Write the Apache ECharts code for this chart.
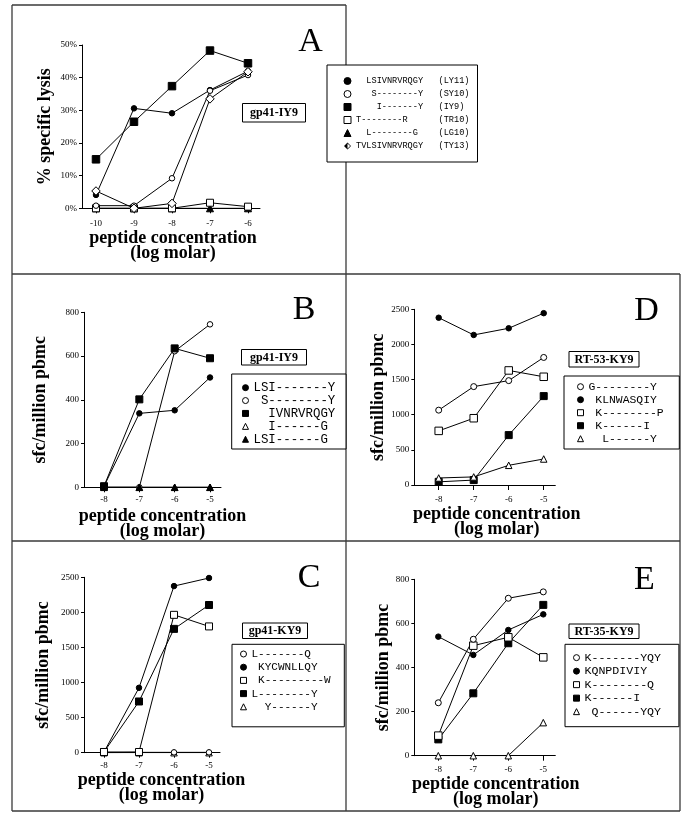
<!DOCTYPE html>
<html><head><meta charset="utf-8">
<script src="https://cdn.jsdelivr.net/npm/echarts@6/dist/echarts.min.js"></script>
<style>html,body{margin:0;padding:0;background:#fff}#c{width:692px;height:819px}</style>
</head><body><div id="c"></div>
<script>
// ---------- DATA ----------
const xA = [-10, -9, -8, -7, -6];          // log molar, panel A
const xS = [-8, -7, -6, -5];               // log molar, panels B-E

// Panel A: % specific lysis, gp41-IY9
const A_LY11 = [4.1, 30.6, 29.1, 36.2, 42.0];
const A_SY10 = [0.8, 0.8, 9.2, 36.0, 40.8];
const A_IY9  = [15.0, 26.5, 37.4, 48.3, 44.4];
const A_TR10 = [0, 0, 0, 1.7, 0.5];
const A_LG10 = [0, 0, 0, 0, 0];
const A_TY13 = [5.3, 0, 1.5, 33.5, 41.8];
const A_names = ["  LSIVNRVRQGY   (LY11)", "   S--------Y   (SY10)", "    I-------Y   (IY9)",
                 "T--------R      (TR10)", "  L--------G    (LG10)", "TVLSIVNRVRQGY   (TY13)"];

// Panel B: sfc/million pbmc, gp41-IY9
const B_LSI_Y = [5, 338, 352, 502];
const B_S_Y   = [0, 0, 622, 745];
const B_IVN   = [5, 402, 635, 590];
const B_I_G   = [0, 0, 0, 0];
const B_LSI_G = [0, 0, 0, 0];
const B_names = ["LSI-------Y", " S--------Y", "  IVNRVRQGY", "  I------G", "LSI------G"];

// Panel C: sfc/million pbmc, gp41-KY9
const C_L_Q = [0, 5, 5, 5];
const C_KYC = [10, 925, 2375, 2490];
const C_K_W = [10, 10, 1965, 1800];
const C_L_Y = [10, 730, 1765, 2105];
const C_Y_Y = [0, 0, 0, 0];
const C_names = ["L-------Q", " KYCWNLLQY", " K---------W", "L--------Y", "  Y------Y"];

// Panel D: sfc/million pbmc, RT-53-KY9
const D_G_Y = [1065, 1400, 1485, 1815];
const D_KLN = [2380, 2135, 2230, 2445];
const D_K_P = [770, 950, 1630, 1540];
const D_K_I = [45, 70, 710, 1265];
const D_L_Y = [100, 115, 280, 370];
const D_names = ["G--------Y", " KLNWASQIY", " K--------P", " K------I", "  L------Y"];

// Panel E: sfc/million pbmc, RT-35-KY9
const E_K_YQY = [240, 528, 714, 743];
const E_KQN   = [540, 457, 570, 641];
const E_K_Q   = [91, 499, 537, 446];
const E_K_I   = [74, 283, 510, 684];
const E_Q_YQY = [0, 0, 0, 150];
const E_names = ["K-------YQY", "KQNPDIVIY", "K--------Q", "K------I", " Q------YQY"];

const panelLetters = ["A", "B", "C", "D", "E"];
const epitopes = ["gp41-IY9", "gp41-IY9", "gp41-KY9", "RT-53-KY9", "RT-35-KY9"];
const yTitles = ["% specific lysis", "sfc/million pbmc", "sfc/million pbmc", "sfc/million pbmc", "sfc/million pbmc"];
const xTitle = "peptide concentration\n(log molar)";

// ---------- LAYOUT / STYLE ----------
const SERIF = "'Liberation Serif', 'Times New Roman', serif";
const MONO = "'Liberation Mono', 'Courier New', monospace";
const HALF_DIAMOND = 'path://M10,0 L0,10 L10,20 Z';
const HALF_DIAMOND_ICON = 'path://M10,0 L0,10 L10,20 Z M10,0 L20,10 L10,20 L10,17.5 L17.5,10 L10,2.5 Z';
const fmtPct = v => v + '%';
const fmtNum = v => String(v);

// [id, values, label, symbol, filled, size]
const panels = [
  { xs: xA, grid: {left: 82, top: 45, width: 178, height: 163.3}, xMin: -10.368, xMax: -5.684,
    yMax: 50, yInt: 10, yFmt: fmtPct, yGap: 28, xGap: 22, xPad: 4, lblMargin: 11,
    legend: {left: 327, top: 65, padding: [9.5, 7.5, 9.5, 16.5], font: 8.6, lh: 13, width: 114, icon: 7},
    series: [
      ['A5', A_LG10, A_names[4], 'triangle', true, 7],
      ['A4', A_TR10, A_names[3], 'rect', false, 7],
      ['A1', A_LY11, A_names[0], 'circle', true, 5.5],
      ['A2', A_SY10, A_names[1], 'circle', false, 5.5],
      ['A3', A_IY9,  A_names[2], 'rect', true, 7.5],
      ['A6', A_TY13, A_names[5], 'diamond', false, 8.5]
    ], order: ['A1', 'A2', 'A3', 'A4', 'A5', 'A6'] },
  { xs: xS, grid: {left: 84, top: 312.3, width: 137, height: 175}, xMin: -8.566, xMax: -4.689,
    yMax: 800, yInt: 200, yFmt: fmtNum, yGap: 35, xGap: 22, xPad: 20, lblMargin: 8,
    legend: {left: 231.7, top: 374, padding: [7.2, 9.5, 3.3, 10.3], font: 12.4, lh: 12.9, width: 83, icon: 6},
    series: [
      ['B2', B_S_Y,   B_names[1], 'circle', false, 5.5],
      ['B1', B_LSI_Y, B_names[0], 'circle', true, 5.5],
      ['B3', B_IVN,   B_names[2], 'rect', true, 7],
      ['B4', B_I_G,   B_names[3], 'triangle', false, 6.5],
      ['B5', B_LSI_G, B_names[4], 'triangle', true, 6.5]
    ], order: ['B1', 'B2', 'B3', 'B4', 'B5'] },
  { xs: xS, grid: {left: 84, top: 577.3, width: 136, height: 175.4}, xMin: -8.571, xMax: -4.686,
    yMax: 2500, yInt: 500, yFmt: fmtNum, yGap: 32, xGap: 20, xPad: 19, lblMargin: 8,
    legend: {left: 232, top: 644.3, padding: [3.1, 12.8, 13.4, 8], font: 11, lh: 13.2, width: 80, icon: 6},
    series: [
      ['C5', C_Y_Y, C_names[4], 'triangle', false, 6.5],
      ['C1', C_L_Q, C_names[0], 'circle', false, 5.5],
      ['C2', C_KYC, C_names[1], 'circle', true, 5.5],
      ['C4', C_L_Y, C_names[3], 'rect', true, 7],
      ['C3', C_K_W, C_names[2], 'rect', false, 7]
    ], order: ['C1', 'C2', 'C3', 'C4', 'C5'] },
  { xs: xS, grid: {left: 414.3, top: 309.3, width: 141, height: 175.7}, xMin: -8.697, xMax: -4.669,
    yMax: 2500, yInt: 500, yFmt: fmtNum, yGap: 20, xGap: 22, xPad: 24, lblMargin: 10.5,
    legend: {left: 564, top: 376, padding: [4.2, 14.8, 3.8, 13], font: 11.4, lh: 13, width: 76, icon: 6},
    series: [
      ['D4', D_K_I, D_names[3], 'rect', true, 7],
      ['D5', D_L_Y, D_names[4], 'triangle', false, 6.5],
      ['D3', D_K_P, D_names[2], 'rect', false, 7.5],
      ['D1', D_G_Y, D_names[0], 'circle', false, 6],
      ['D2', D_KLN, D_names[1], 'circle', true, 5.5]
    ], order: ['D1', 'D2', 'D3', 'D4', 'D5'] },
  { xs: xS, grid: {left: 414.3, top: 579.3, width: 141, height: 176.4}, xMin: -8.686, xMax: -4.657,
    yMax: 800, yInt: 200, yFmt: fmtNum, yGap: 20, xGap: 21, xPad: 22, lblMargin: 9,
    legend: {left: 565, top: 644.3, padding: [6.6, 17.4, 8.3, 8], font: 11.6, lh: 13.5, width: 77, icon: 6},
    series: [
      ['E5', E_Q_YQY, E_names[4], 'triangle', false, 6.5],
      ['E4', E_K_I,   E_names[3], 'rect', true, 7],
      ['E3', E_K_Q,   E_names[2], 'rect', false, 7.5],
      ['E2', E_KQN,   E_names[1], 'circle', true, 5.5],
      ['E1', E_K_YQY, E_names[0], 'circle', false, 6]
    ], order: ['E1', 'E2', 'E3', 'E4', 'E5'] }
];

const letterPos = [[310.5, 42.5], [304, 310], [309, 578.5], [646.5, 311], [644.5, 580]];
const letterSize = [34, 34, 34, 34, 34];
const boxRects = [[242.5, 103.5, 63, 18.5], [241.5, 349.5, 65, 15.5], [242.5, 623, 65, 15.5],
                  [569, 351.5, 70, 15.5], [569, 624, 70, 14.5]];
const frameLines = [[12, 5, 346, 5], [12, 5, 12, 811], [12, 811, 680, 811], [680, 274, 680, 811],
                    [346, 5, 346, 811], [12, 274, 680, 274], [12, 541, 680, 541]];

// ---------- BUILD ----------
const grids = [], xAxes = [], yAxes = [], series = [], legends = [], graphics = [];
const labelOf = {};

frameLines.forEach(l => graphics.push({type: 'line', shape: {x1: l[0], y1: l[1], x2: l[2], y2: l[3]},
  style: {stroke: '#3a3a3a', lineWidth: 1.3}, z: 0, silent: true}));

panels.forEach((p, gi) => {
  grids.push(Object.assign({outerBoundsMode: 'none', containLabel: false}, p.grid));
  xAxes.push({
    type: 'value', gridIndex: gi, min: p.xMin, max: p.xMax,
    axisLine: {show: true, onZero: false, lineStyle: {color: '#000', width: 1}},
    axisTick: {show: true, length: 5, customValues: p.xs, lineStyle: {color: '#000'}},
    axisLabel: {customValues: p.xs, margin: p.lblMargin, fontFamily: SERIF, fontSize: 9, color: '#000',
      formatter: fmtNum},
    splitLine: {show: false},
    name: xTitle, nameLocation: 'middle', nameGap: p.xGap,
    nameTextStyle: {fontFamily: SERIF, fontWeight: 'bold', fontSize: 18, lineHeight: 15, color: '#000',
      padding: [0, 0, 0, p.xPad]}
  });
  yAxes.push({
    type: 'value', gridIndex: gi, min: 0, max: p.yMax, interval: p.yInt,
    axisLine: {show: true, onZero: false, lineStyle: {color: '#000', width: 1}},
    axisTick: {show: true, length: 3, lineStyle: {color: '#000'}},
    axisLabel: {formatter: p.yFmt, margin: 5, fontFamily: SERIF, fontSize: 9, color: '#000'},
    splitLine: {show: false},
    name: yTitles[gi], nameLocation: 'middle', nameGap: p.yGap,
    nameTextStyle: {fontFamily: SERIF, fontWeight: 'bold', fontSize: 18, color: '#000'}
  });
  const legendData = {};
  p.series.forEach(s => {
    const [id, vals, label, sym, filled, size] = s;
    labelOf[id] = label;
    const fill = filled ? '#000' : '#fff';
    series.push({
      type: 'line', name: id, xAxisIndex: gi, yAxisIndex: gi,
      data: p.xs.map((x, i) => [x, vals[i]]),
      symbol: sym, symbolSize: size, showAllSymbol: true,
      lineStyle: {color: '#000', width: 1},
      itemStyle: {color: fill, borderColor: '#000', borderWidth: 1},
      emphasis: {disabled: true}, animation: false
    });
    if (id === 'A6') {
      series.push({
        type: 'scatter', name: 'A6half', xAxisIndex: gi, yAxisIndex: gi,
        data: p.xs.map((x, i) => [x, vals[i]]),
        symbol: HALF_DIAMOND, symbolSize: [size / 2, size], symbolOffset: [-size / 4, 0],
        itemStyle: {color: '#000'}, emphasis: {disabled: true}, animation: false, silent: true
      });
      legendData[id] = {name: id, icon: HALF_DIAMOND_ICON, itemStyle: {color: '#000', borderWidth: 0}};
    } else {
      legendData[id] = {name: id, icon: sym, itemStyle: {color: fill, borderColor: '#000', borderWidth: 1}};
    }
  });
  const L = p.legend;
  legends.push({
    orient: 'vertical', left: L.left, top: L.top, padding: L.padding, itemGap: 0,
    itemWidth: L.icon, itemHeight: L.icon, selectedMode: false,
    backgroundColor: '#fff', borderColor: '#000', borderWidth: 1,
    data: p.order.map(id => legendData[id]),
    formatter: n => labelOf[n],
    textStyle: {fontFamily: MONO, fontSize: L.font, lineHeight: L.lh, width: L.width, color: '#000'}
  });
  // panel letter
  graphics.push({type: 'text', x: letterPos[gi][0], y: letterPos[gi][1], z: 5,
    style: {text: panelLetters[gi], textAlign: 'center', textVerticalAlign: 'middle',
      font: 'normal ' + letterSize[gi] + 'px ' + SERIF, fill: '#000'}});
  // epitope box
  const r = boxRects[gi];
  graphics.push({type: 'rect', shape: {x: r[0], y: r[1], width: r[2], height: r[3]}, z: 5,
    style: {fill: '#fff', stroke: '#000', lineWidth: 1}});
  graphics.push({type: 'text', x: r[0] + r[2] / 2, y: r[1] + r[3] / 2 + 0.5, z: 6,
    style: {text: epitopes[gi], textAlign: 'center', textVerticalAlign: 'middle',
      font: 'bold 12px ' + SERIF, fill: '#000'}});
});

const chart = echarts.init(document.getElementById('c'), null, {renderer: 'canvas', width: 692, height: 819});
chart.setOption({
  backgroundColor: '#fff',
  animation: false,
  grid: grids, xAxis: xAxes, yAxis: yAxes, series: series, legend: legends,
  graphic: {elements: graphics}
});
</script></body></html>
